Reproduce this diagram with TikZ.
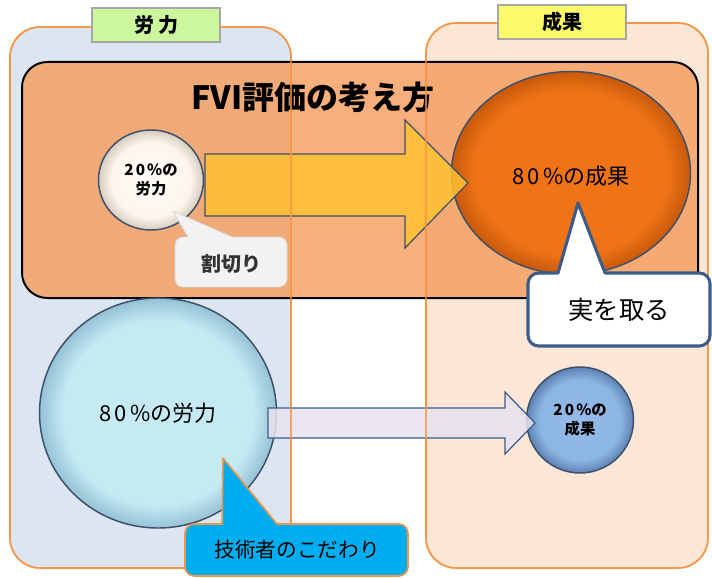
\documentclass[tikz,border=0pt]{standalone}
\usepackage{fontspec}
\setmainfont{Noto Sans CJK JP}
\usetikzlibrary{shapes.geometric}
\definecolor{panelL}{HTML}{DCE6F2}
\definecolor{panelR}{HTML}{FCE6D6}
\definecolor{panelEdge}{HTML}{F79646}
\definecolor{boxFill}{HTML}{F59E5E}
\definecolor{arrowY}{HTML}{FFC033}
\definecolor{slate}{HTML}{3E5068}
\definecolor{lavender}{HTML}{E8E2EE}
\definecolor{navyEdge}{HTML}{3C5B8B}
\definecolor{calloutGray}{HTML}{F2F2F2}
\definecolor{skyFill}{HTML}{00AEEF}
\definecolor{greenLabel}{HTML}{CCF79C}
\definecolor{yellowLabel}{HTML}{FAFA6A}
\definecolor{labelEdge}{HTML}{A6A6A6}
\pgfdeclareradialshading{orangebevel}{\pgfpoint{0bp}{0bp}}{%
  rgb(0bp)=(0.941,0.455,0.086); rgb(20bp)=(0.941,0.455,0.086);
  rgb(25bp)=(0.78,0.35,0.04); rgb(50bp)=(0.78,0.35,0.04)}
\pgfdeclareradialshading{creambevel}{\pgfpoint{0bp}{0bp}}{%
  rgb(0bp)=(1,0.99,0.97); rgb(19bp)=(0.985,0.96,0.925);
  rgb(25bp)=(0.84,0.80,0.75); rgb(50bp)=(0.84,0.80,0.75)}
\pgfdeclareradialshading{cyanbevel}{\pgfpoint{0bp}{0bp}}{%
  rgb(0bp)=(0.776,0.918,0.953); rgb(20bp)=(0.776,0.918,0.953);
  rgb(25bp)=(0.58,0.76,0.84); rgb(50bp)=(0.58,0.76,0.84)}
\pgfdeclareradialshading{bluebevel}{\pgfpoint{0bp}{0bp}}{%
  rgb(0bp)=(0.58,0.73,0.91); rgb(19bp)=(0.55,0.71,0.89);
  rgb(25bp)=(0.36,0.51,0.71); rgb(50bp)=(0.36,0.51,0.71)}
\newcommand{\pct}[1]{{\addfontfeature{LetterSpace=14}#1}}
\begin{document}
\begin{tikzpicture}[x=0.75pt,y=-0.75pt,
  panel/.style={rounded corners=22.5pt, draw=panelEdge, line width=1.2pt},
  ball/.style={ellipse, inner sep=0pt, draw=slate, line width=1.1pt, align=center},
  blockarrow/.style={draw=slate, line width=0.9pt, line join=miter},
  tag/.style={draw=labelEdge, line width=2pt, minimum height=25.5pt, font=\bfseries\fontsize{15}{17}\selectfont},
  callout/.style={line join=round}
]
\useasboundingbox (0,0) rectangle (712,577);

% panels (background)
\path[panel, fill=panelL] (10,27) rectangle (291,568);
\path[panel, fill=panelR] (426,23) rectangle (708,568);

% central orange box
\draw[rounded corners=19pt, fill=boxFill, fill opacity=0.82, draw=black, line width=1.5pt]
  (22,62) rectangle (698,298);

% balls
\node[ball, minimum width=78.75pt, minimum height=75pt, shading=creambevel,
      font=\bfseries\fontsize{11.5}{14}\selectfont] (w20) at (151,180) {\pct{20\%}の\\労力};
\node[ball, minimum width=179.25pt, minimum height=152.25pt, shading=orangebevel,
      font=\fontsize{16}{19}\selectfont] (r80) at (571,173) {};
\node[font=\fontsize{16.5}{19}\selectfont] (r80t) at (571,176) {\pct{80\%}の成果};
\node[ball, minimum width=177.75pt, minimum height=172.5pt, shading=cyanbevel,
      font=\fontsize{16.5}{19}\selectfont] (w80) at (158,413) {\pct{80\%}の労力};
\node[ball, minimum width=80.25pt, minimum height=79.5pt, shading=bluebevel,
      font=\bfseries\fontsize{11.5}{14}\selectfont] (r20) at (580,420) {\pct{20\%}の\\成果};

% block arrows
\draw[blockarrow, fill=arrowY, fill opacity=0.85]
  (205,154) -- (405,154) -- (405,120) -- (468,183) -- (405,248) -- (405,216) -- (205,216) -- cycle;
\draw[blockarrow, draw=navyEdge, fill=lavender, fill opacity=0.85]
  (268,408) -- (505,408) -- (505,392) -- (535,423) -- (505,454) -- (505,438) -- (268,438) -- cycle;

\node[font=\bfseries\fontsize{24}{28}\selectfont] (title) at (313,97) {FVI評価の考え方};

% panel outlines over the content
\draw[panel, draw opacity=0.75] (10,27) rectangle (291,568);
\draw[panel, draw opacity=0.75] (426,23) rectangle (708,568);

% panel tags
\node[tag, fill=greenLabel, minimum width=96pt] (tagL) at (156,25) {労\hspace{3pt}力};
\node[tag, fill=yellowLabel, minimum width=96pt] (tagR) at (562,22) {成果};

% callout: 割切り
\draw[callout, fill=calloutGray, draw=white!85!black, line width=0.6pt]
  [rounded corners=6pt] (175,262) -- (175,237) [sharp corners] -- (188,237) -- (173,211) -- (232,237)
  [rounded corners=6pt] -- (287,237) -- (287,287) -- (175,287) -- cycle;
\node[font=\bfseries\fontsize{15}{18}\selectfont, text=black!80] (cut) at (231,264) {割切り};

% callout: 実を取る
\draw[callout, fill=white, draw=navyEdge, line width=2.3pt]
  [rounded corners=8pt] (528,310) -- (528,273) [sharp corners] -- (558,273) -- (578,203) -- (605,273)
  [rounded corners=8pt] -- (710,273) -- (710,346) -- (528,346) -- cycle;
\node[font=\fontsize{19}{22}\selectfont] (fruit) at (619,310) {実を取る};

% callout: 技術者のこだわり
\draw[callout, fill=skyFill, draw=panelEdge, line width=1.2pt]
  [rounded corners=7pt] (185,550) -- (185,524) [sharp corners] -- (222,524) -- (223,458) -- (277,524)
  [rounded corners=7pt] -- (408,524) -- (408,576) -- (185,576) -- cycle;
\node[font=\fontsize{15.5}{18}\selectfont] (eng) at (297,550) {技術者のこだわり};

\end{tikzpicture}
\end{document}
